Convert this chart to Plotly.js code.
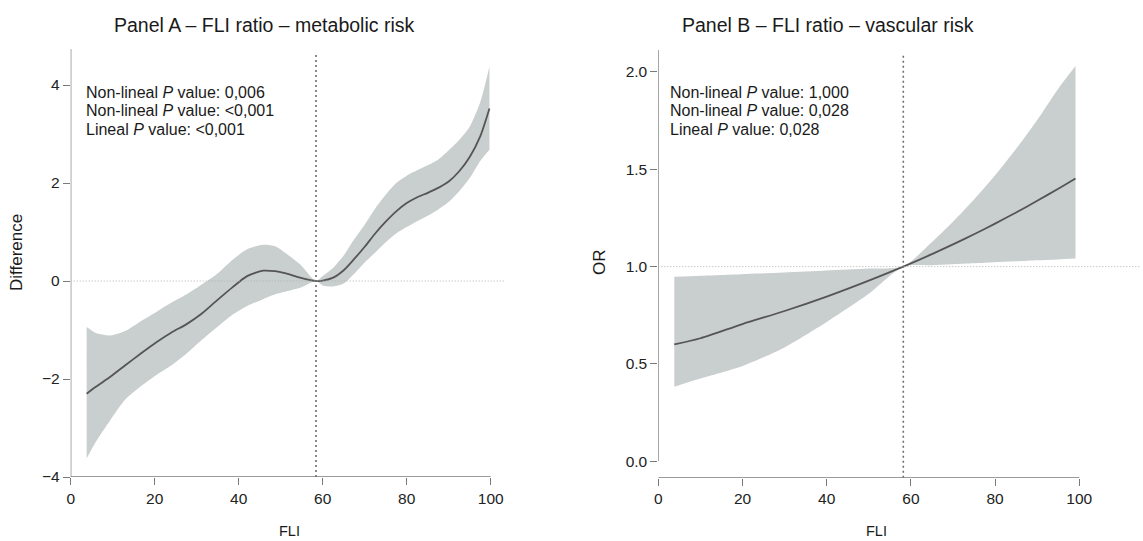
<!DOCTYPE html>
<html>
<head>
<meta charset="utf-8">
<script src="https://cdn.plot.ly/plotly-3.0.1.min.js"></script>
<style>html,body{margin:0;padding:0;background:#fff}#chart{width:1143px;height:541px}</style>
</head>
<body>
<div id="chart"></div>
<script>
// ---- Panel A data (FLI ratio – metabolic risk) ----
const fliA = [3.8, 6, 9.5, 13, 16.7, 20.4, 24, 27.6, 31, 34.9, 38.5, 42, 45.8, 48.7, 51, 54.6, 58.4, 60, 62.5, 65, 67.5, 70, 72.5, 75, 77.5, 80, 82.5, 85, 87.5, 90, 92.5, 95, 97.5, 99.7];
const diffA = [-2.30, -2.16, -1.95, -1.72, -1.48, -1.25, -1.05, -0.88, -0.68, -0.39, -0.13, 0.10, 0.21, 0.20, 0.16, 0.07, 0, 0.01, 0.07, 0.22, 0.45, 0.70, 0.97, 1.21, 1.42, 1.59, 1.71, 1.80, 1.90, 2.03, 2.24, 2.53, 2.95, 3.52];
const lowA = [-3.62, -3.28, -2.83, -2.42, -2.15, -1.92, -1.72, -1.48, -1.22, -0.94, -0.69, -0.51, -0.37, -0.27, -0.22, -0.14, 0, -0.09, -0.11, -0.05, 0.15, 0.38, 0.58, 0.79, 0.97, 1.10, 1.22, 1.33, 1.46, 1.61, 1.83, 2.10, 2.45, 2.68];
const highA = [-0.94, -1.06, -1.11, -1.02, -0.82, -0.63, -0.44, -0.27, -0.08, 0.15, 0.43, 0.65, 0.74, 0.71, 0.58, 0.34, 0, 0.10, 0.27, 0.52, 0.85, 1.15, 1.48, 1.76, 2.00, 2.15, 2.26, 2.36, 2.48, 2.67, 2.88, 3.15, 3.65, 4.38];
const refA = 58.4;
const textA = ["Non-lineal <i>P</i> value: 0,006", "Non-lineal <i>P</i> value: <0,001", "Lineal <i>P</i> value: <0,001"];

// ---- Panel B data (FLI ratio – vascular risk) ----
const fliB = [3.8, 10, 20, 30, 40, 50, 58.2, 65, 70, 75, 80, 85, 90, 95, 99.1];
const orB = [0.60, 0.632, 0.705, 0.772, 0.846, 0.928, 1.0, 1.064, 1.114, 1.166, 1.221, 1.278, 1.338, 1.40, 1.453];
const lowB = [0.383, 0.425, 0.49, 0.585, 0.715, 0.86, 1.0, 1.007, 1.012, 1.017, 1.022, 1.027, 1.032, 1.037, 1.041];
const highB = [0.948, 0.953, 0.961, 0.970, 0.980, 0.990, 1.0, 1.127, 1.231, 1.345, 1.469, 1.605, 1.753, 1.914, 2.03];
const refB = 58.2;
const textB = ["Non-lineal <i>P</i> value: 1,000", "Non-lineal <i>P</i> value: 0,028", "Lineal <i>P</i> value: 0,028"];

const xTicks = [0, 20, 40, 60, 80, 100];
const yTicksA = [-4, -2, 0, 2, 4];
const yTicksB = [0, 0.5, 1.0, 1.5, 2.0];

// ---- styling / layout helpers ----
const W = 1143, H = 541;
const px = v => v / W;
const py = v => 1 - v / H;
const FONT = "Liberation Sans, Arial, Helvetica, sans-serif";
const BAND = "#c9cfce";
const LINE = "#555555";
const AX = "#7a7a7a";

function bandTraces(x, lo, hi, mid, xa, ya) {
  return [
    {x: x, y: lo, xaxis: xa, yaxis: ya, type: "scatter", mode: "lines",
     line: {width: 0, shape: "spline", smoothing: 0.7}, hoverinfo: "skip", showlegend: false},
    {x: x, y: hi, xaxis: xa, yaxis: ya, type: "scatter", mode: "lines", fill: "tonexty",
     fillcolor: BAND, line: {width: 0, shape: "spline", smoothing: 0.7}, hoverinfo: "skip", showlegend: false},
    {x: x, y: mid, xaxis: xa, yaxis: ya, type: "scatter", mode: "lines",
     line: {color: LINE, width: 1.8, shape: "spline", smoothing: 0.7}, showlegend: false}
  ];
}

const data = [].concat(
  bandTraces(fliA, lowA, highA, diffA, "x", "y"),
  bandTraces(fliB, lowB, highB, orB, "x2", "y2")
);

const yA = [-4, 4.735];
const yB = [-0.0842, 2.1125];
const TICKFONT = {family: FONT, size: 15.5, color: "#222"};

function axisX(domain, range, anchor) {
  return {domain: domain, range: range, anchor: anchor, showgrid: false, zeroline: false, showline: false,
    ticks: "outside", ticklen: 7, tickwidth: 1, tickcolor: AX, tickvals: xTicks,
    tickfont: TICKFONT, fixedrange: true};
}
function axisY(domain, range, vals, fmt, anchor) {
  return {domain: domain, range: range, showgrid: false, zeroline: false, showline: false,
    ticks: "outside", ticklen: 7, tickwidth: 1, tickcolor: AX, tickvals: vals, tickformat: fmt,
    tickfont: TICKFONT, anchor: anchor, fixedrange: true};
}

const shapes = [
  // Panel A
  {type: "line", xref: "x", yref: "y", x0: 0, x1: 0, y0: yA[0], y1: yA[1], line: {color: AX, width: 1.3}},
  {type: "line", xref: "x", yref: "y", x0: 0, x1: 100, y0: yA[0], y1: yA[0], line: {color: AX, width: 1.3}},
  {type: "line", xref: "x", yref: "y", x0: 0, x1: 103.6, y0: 0, y1: 0, line: {color: "#b0b0b0", width: 1, dash: "1px,2px"}},
  {type: "line", xref: "x", yref: "y", x0: refA, x1: refA, y0: yA[0], y1: 4.63, line: {color: "#6e6e6e", width: 1.6, dash: "2px,3px"}},
  // Panel B
  {type: "line", xref: "x2", yref: "y2", x0: 0, x1: 0, y0: 0, y1: yB[1], line: {color: AX, width: 1.3}},
  {type: "line", xref: "x2", yref: "y2", x0: 0, x1: 100, y0: yB[0], y1: yB[0], line: {color: AX, width: 1.3}},
  {type: "line", xref: "x2", yref: "y2", x0: 0, x1: 114.6, y0: 1, y1: 1, line: {color: "#b0b0b0", width: 1, dash: "1px,2px"}},
  {type: "line", xref: "x2", yref: "y2", x0: refB, x1: refB, y0: yB[0], y1: 2.09, line: {color: "#6e6e6e", width: 1.6, dash: "2px,3px"}}
];

function txt(text, x, y, size, opts) {
  return Object.assign({text: text, xref: "paper", yref: "paper", x: px(x), y: py(y),
    showarrow: false, font: {family: FONT, size: size, color: "#1a1a1a"},
    xanchor: "center", yanchor: "middle"}, opts || {});
}

const annotations = [
  txt("Panel A – FLI ratio – metabolic risk", 264, 25, 19.5),
  txt("Panel B – FLI ratio – vascular risk", 828, 25, 19.5),
  txt("Difference", 17, 253, 17, {textangle: -90}),
  txt("OR", 599, 262, 17, {textangle: -90}),
  txt("FLI", 289, 531, 14.5),
  txt("FLI", 876, 531, 14.5)
];
const lineY = [92.5, 111, 129.5];
textA.forEach((t, i) => annotations.push(txt(t, 84, lineY[i], 16, {xanchor: "left"})));
textB.forEach((t, i) => annotations.push(txt(t, 668, lineY[i], 16, {xanchor: "left"})));

const layout = {
  width: W, height: H, autosize: false,
  margin: {l: 0, r: 0, t: 0, b: 0},
  paper_bgcolor: "#ffffff", plot_bgcolor: "rgba(0,0,0,0)",
  showlegend: false,
  xaxis: axisX([px(70.7), px(506)], [0, 103.64], "y"),
  yaxis: axisY([py(477), py(49)], yA, yTicksA, "", "x"),
  xaxis2: axisX([px(658.3), px(1141)], [0, 114.66], "y2"),
  yaxis2: axisY([py(477.7), py(50)], yB, yTicksB, ".1f", "x2"),
  shapes: shapes,
  annotations: annotations
};

Plotly.newPlot("chart", data, layout, {staticPlot: true, displayModeBar: false});
</script>
</body>
</html>
